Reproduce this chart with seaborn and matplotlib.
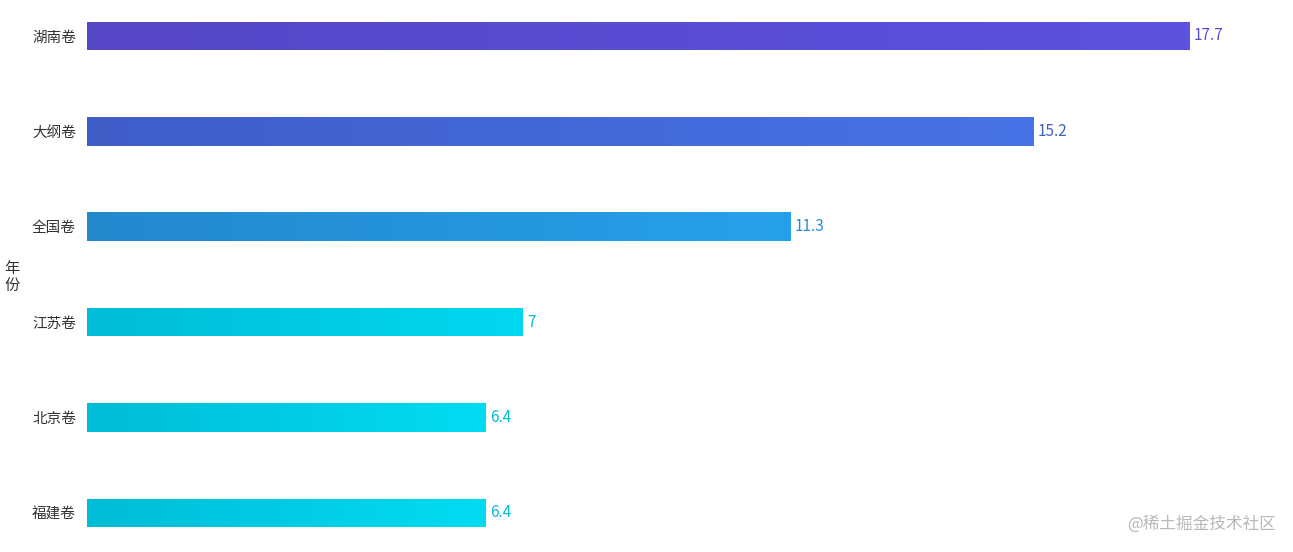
import numpy as np
import pandas as pd
import matplotlib
matplotlib.use("Agg")
import matplotlib.pyplot as plt
import seaborn as sns
from matplotlib.colors import LinearSegmentedColormap

# data
categories = ["湖南卷", "大纲卷", "全国卷", "江苏卷", "北京卷", "福建卷"]
values = [17.7, 15.2, 11.3, 7, 6.4, 6.4]
labels = ["17.7", "15.2", "11.3", "7", "6.4", "6.4"]
grad_start = ["#5547c6", "#3f5ec8", "#2389cf", "#00bcd6", "#00bcd6", "#00bcd6"]
grad_end = ["#5c52e0", "#4873e6", "#27a0ec", "#00d8f0", "#00dcf2", "#00dcf2"]
label_colors = ["#5a4fd0", "#4360c0", "#2a8cd0", "#00bcd6", "#00bcd6", "#00bcd6"]

sns.set_theme(style="white")
plt.rcParams["font.family"] = ["Noto Sans CJK SC", "DejaVu Sans"]

W, H = 1293, 552
fig = plt.figure(figsize=(W / 100, H / 100), dpi=100)
ax = fig.add_axes([87 / W, 0, (1208 - 87) / W, 1])

df = pd.DataFrame({"cat": categories, "val": values})
sns.barplot(data=df, x="val", y="cat", orient="h", width=0.30, color="white",
            ax=ax, saturation=1)

ax.set_xlim(0, 18)
ax.set_ylim(5.41, -0.377)

# gradient fill for each bar
for patch, c0, c1 in zip(ax.patches, grad_start, grad_end):
    x0, y0 = patch.get_x(), patch.get_y()
    w, h = patch.get_width(), patch.get_height()
    cmap = LinearSegmentedColormap.from_list("g", [c0, c1])
    grad = np.linspace(0, 1, 256).reshape(1, -1)
    im = ax.imshow(grad, cmap=cmap, aspect="auto",
                   extent=[x0, x0 + w, y0 + h, y0], zorder=2)
    im.set_clip_path(patch)
    patch.set_edgecolor("none")

for i, (v, lab, col) in enumerate(zip(values, labels, label_colors)):
    ax.text(v + 0.07, i, lab, va="center", ha="left", color=col, fontsize=11)

for s in ax.spines.values():
    s.set_visible(False)
ax.set_xticks([])
ax.set_xlabel("")
ax.set_ylabel("")
ax.tick_params(axis="y", length=0, pad=8, labelsize=10.5, labelcolor="#333333")

fig.text(12 / W, 1 - 277 / H, "年\n份", ha="center", va="center",
         fontsize=11, color="#333333", linespacing=0.95)
fig.text(1276 / W, 1 - 524 / H, "@稀土掘金技术社区", ha="right", va="center",
         fontsize=12, color="#b8b8b8")

fig.savefig("out.png", dpi=100)
